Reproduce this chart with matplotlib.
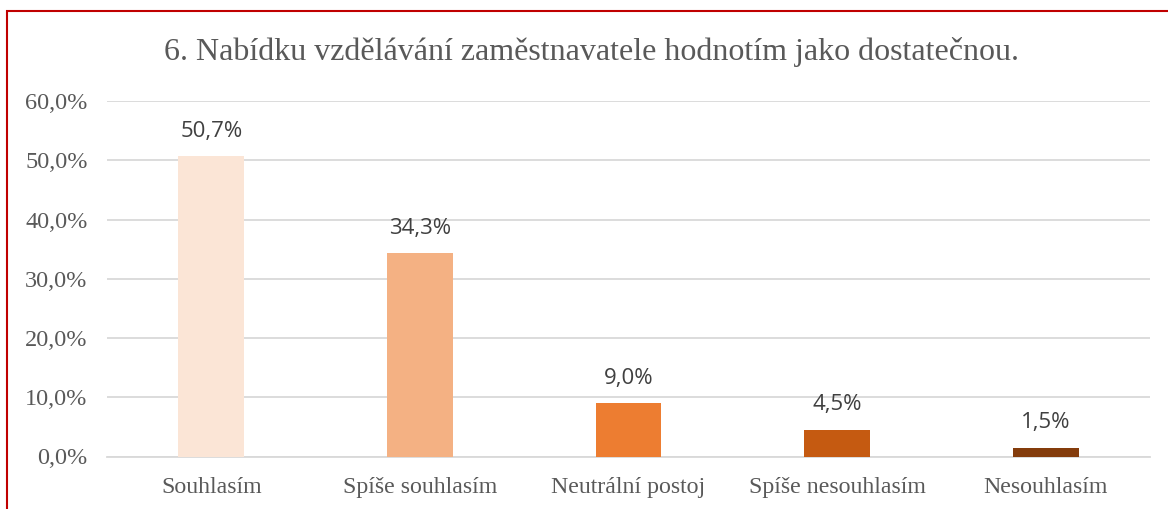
import matplotlib.pyplot as plt
from matplotlib.patches import Rectangle

categories = ['Souhlasím', 'Spíše souhlasím', 'Neutrální postoj', 'Spíše nesouhlasím', 'Nesouhlasím']
values = [50.7, 34.3, 9.0, 4.5, 1.5]
colors = ['#FBE5D6', '#F4B183', '#ED7D31', '#C55A11', '#843C0C']
yticks = [0, 10, 20, 30, 40, 50, 60]

title = '6. Nabídku vzdělávání zaměstnavatele hodnotím jako dostatečnou.'

serif = 'Liberation Serif'
sans = 'Open Sans'
txt = '#595959'

fig = plt.figure(figsize=(11.68, 5.09), dpi=100)
ax = fig.add_axes([107 / 1168, 1 - 456.5 / 509, (1150 - 107) / 1168, (456.5 - 101) / 509])

x = range(len(categories))
bars = ax.bar(x, values, width=0.316, color=colors, zorder=3)

for b, v in zip(bars, values):
    ax.annotate(f'{v:.1f}%'.replace('.', ','), (b.get_x() + b.get_width() / 2, v),
                xytext=(0, 18), textcoords='offset points', ha='center', va='center',
                fontsize=16, family=sans, color='#404040')

ax.set_xlim(-0.5, len(categories) - 0.5)
ax.set_ylim(0, 60)
ax.set_yticks(yticks)
ax.set_yticklabels([f'{t:.1f}%'.replace('.', ',') for t in yticks], family=serif, fontsize=17.5, color=txt)
ax.set_xticks(list(x))
ax.set_xticklabels(categories, family=serif, fontsize=17.2, color=txt)
ax.tick_params(axis='x', length=0, pad=15)
ax.tick_params(axis='y', length=0, pad=14)
ax.grid(axis='y', color='#D9D9D9', linewidth=1.3, zorder=0)
for s in ['top', 'right', 'left']:
    ax.spines[s].set_visible(False)
ax.spines['bottom'].set_color('#D9D9D9')
ax.spines['bottom'].set_linewidth(1.3)

fig.text(592 / 1168, 1 - 52 / 509, title, ha='center', va='center',
         family=serif, fontsize=23, color=txt)

fig.add_artist(Rectangle((7 / 1168, -0.05), 1.2, 1 - 11 / 509 + 0.05, transform=fig.transFigure,
                         fill=False, edgecolor='#C00000', linewidth=1.5))

fig.savefig('out.png', dpi=100)
